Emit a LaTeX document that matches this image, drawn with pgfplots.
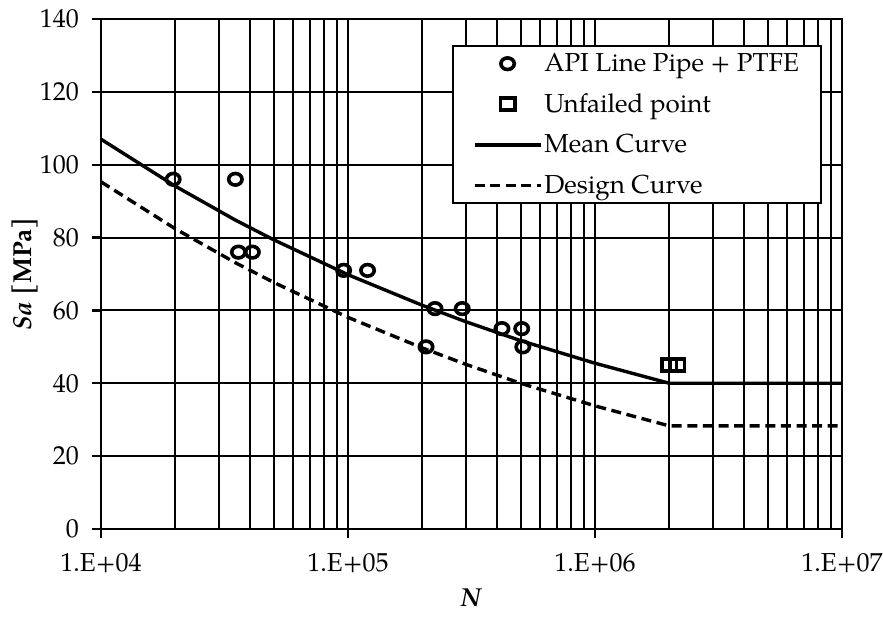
\documentclass[border=0pt]{standalone}
\usepackage{fontspec}
\setmainfont{TeX Gyre Pagella}
\usepackage{pgfplots}
\pgfplotsset{compat=1.18}
\begin{document}
\begin{tikzpicture}[font=\fontsize{13}{15.6}\selectfont]
\begin{axis}[
  at={(0,0)}, anchor=south west,
  scale only axis, width=370.5pt, height=255pt,
  xmode=log, xmin=1e4, xmax=1e7, ymin=0, ymax=140,
  ytick={0,20,40,60,80,100,120,140},
  xtick={1e4,1e5,1e6,1e7},
  xticklabels={1.E+04,1.E+05,1.E+06,1.E+07},
  minor xtick={2e4,3e4,4e4,5e4,6e4,7e4,8e4,9e4,2e5,3e5,4e5,5e5,6e5,7e5,8e5,9e5,2e6,3e6,4e6,5e6,6e6,7e6,8e6,9e6},
  /pgf/number format/assume math mode=true,
  grid=both,
  major grid style={black, line width=1pt},
  minor grid style={black, line width=1pt},
  axis line style={black, line width=1.3pt},
  tick align=outside, xtick pos=bottom, ytick pos=left,
  major tick length=4.5pt, minor tick length=0pt,
  tick style={black, line width=1.2pt},
  yticklabel style={xshift=-3pt},
  xticklabel style={yshift=-4pt},
  xlabel={\textbf{\textit{N}}},
  ylabel={\textbf{\textit{Sa} [MPa]}},
  xlabel style={at={(axis description cs:0.5,-0.1353)}, anchor=center},
  ylabel style={at={(axis description cs:-0.1026,0.5)}, anchor=center},
  legend style={at={(0.973,0.949)}, anchor=north east, draw=black, line width=1.1pt,
    inner xsep=10pt, inner ysep=2.5pt, row sep=7.5pt,
    nodes={inner sep=1pt}},
  legend cell align=left,
  legend image code/.code={\draw[mark repeat=2,mark phase=2,#1] plot coordinates {(0pt,0pt) (16.5pt,0pt) (33pt,0pt)};},
]
\addplot[only marks, mark=o, mark size=2.9pt, mark options={line width=1.8pt, xscale=1.15, black}]
coordinates {(1.96e4,96) (3.5e4,96) (3.6e4,76) (4.1e4,76) (9.6e4,71) (1.2e5,71)
 (2.25e5,60.5) (2.9e5,60.5) (4.2e5,55) (5.05e5,55) (2.07e5,50) (5.1e5,50)};
\addlegendentry{API Line Pipe + PTFE}
\addplot[only marks, mark=square, mark size=3pt, mark options={line width=1.8pt, xscale=1.2, black}]
coordinates {(2.0e6,45) (2.15e6,45)};
\addlegendentry{Unfailed point}
\addplot[black, line width=1.7pt, no marks]
coordinates {(1e4,107) (2e4,94.1) (3.5e4,84.8) (5e4,79.4) (1e5,69.8) (2e5,61.4) (3e5,56.9) (5e5,51.7) (1e6,45.5) (2e6,40) (1e7,40)};
\addlegendentry{Mean Curve}
\addplot[black, line width=1.7pt, no marks, dash pattern=on 5pt off 2.8pt]
coordinates {(1e4,95.3) (2e4,82.4) (3.5e4,73.1) (5e4,67.7) (1e5,58.1) (2e5,49.7) (3e5,45.2) (5e5,40.0) (1e6,33.8) (2e6,28.3) (1e7,28.3)};
\addlegendentry{Design Curve}
\end{axis}
\pgfresetboundingbox
\path[use as bounding box] (-50.5pt,-43.5pt) rectangle (391pt,264.5pt);
\end{tikzpicture}
\end{document}
